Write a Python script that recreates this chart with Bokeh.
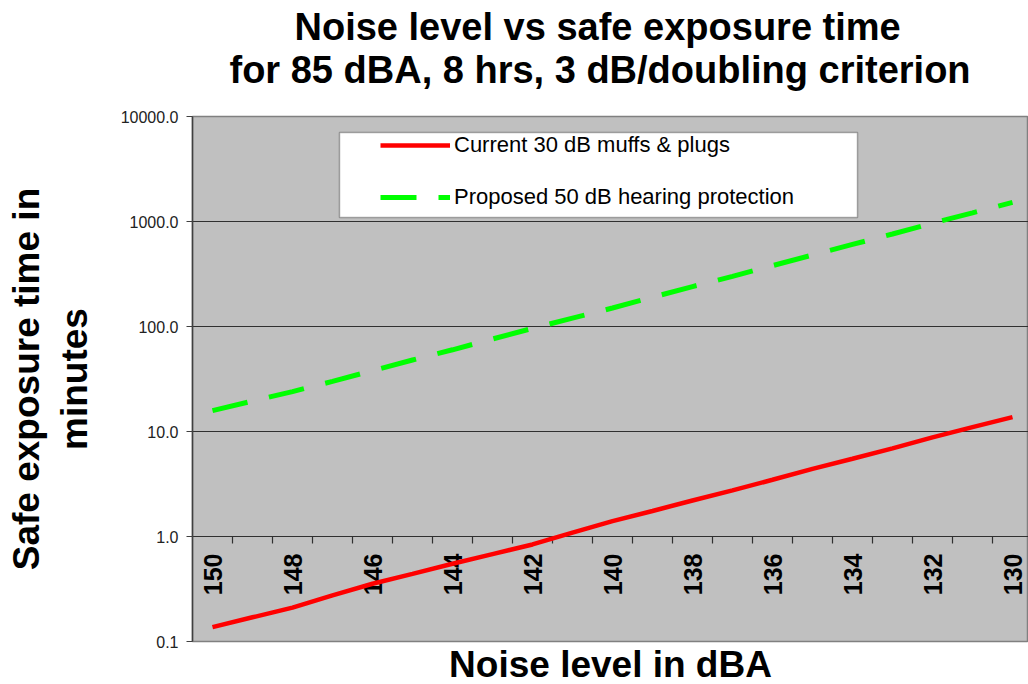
import math
from bokeh.plotting import figure
from bokeh.models import (Range1d, FixedTicker, PrintfTickFormatter, Title,
                          Legend, LegendItem, BoxAnnotation)
from bokeh.core.properties import value
from bokeh.embed import file_html
from bokeh.resources import INLINE

# ---------------- data ----------------
noise_levels = [150, 149, 148, 147, 146, 145, 144, 143, 142, 141, 140,
                139, 138, 137, 136, 135, 134, 133, 132, 131, 130]
current_30db = [0.137, 0.17, 0.21, 0.275, 0.355, 0.44, 0.55, 0.68, 0.84, 1.09, 1.40,
                1.75, 2.2, 2.75, 3.47, 4.4, 5.5, 6.9, 8.8, 11.0, 13.7]
proposed_50db = [15.8, 19.5, 24.0, 30.0, 38.0, 48.0, 60.0, 76.0, 96.0, 120.0, 150.0,
                 190.0, 240.0, 300.0, 380.0, 480.0, 605.0, 760.0, 964.0, 1210.0, 1520.0]
x_tick_labels = ["150", "148", "146", "144", "142", "140", "138", "136", "134", "132", "130"]
y_ticks = [0.1, 1, 10, 100, 1000, 10000]
grid_ticks = [1, 10, 100, 1000]
series_names = ["Current 30 dB muffs & plugs", "Proposed 50 dB hearing protection"]
title_lines = ["Noise level vs safe exposure time",
               "for 85 dBA, 8 hrs, 3 dB/doubling criterion"]
x_title = "Noise level in dBA"
y_title_lines = ["Safe exposure time in", "minutes"]

# ---------------- layout ----------------
W, H = 1028, 684
FL, FT, FB = 192, 116, 43
frame_w = W - FL
frame_h = H - FT - FB
cat_px = 40
x_idx = list(range(len(noise_levels)))
x_start = -0.5
x_end = x_start + frame_w / cat_px
y_lo, y_hi = 0.1, 10000
decades = math.log10(y_hi / y_lo)

FONT = "Liberation Sans"

p = figure(width=W, height=H,
           x_range=Range1d(x_start, x_end), y_range=Range1d(y_lo, y_hi),
           y_axis_type="log", x_axis_location=None, title=None,
           toolbar_location=None, output_backend="svg",
           min_border_left=FL, min_border_right=0,
           min_border_top=FT, min_border_bottom=FB,
           background_fill_color="#C0C0C0", border_fill_color="white",
           outline_line_color="#808080", outline_line_width=1.5)

# two-line title: nearest line first, outer line second
for txt, so, off in [(title_lines[1], 52, 37), (title_lines[0], -55, 102)]:
    p.add_layout(Title(text=txt, align="left", offset=off, standoff=so,
                       text_font=FONT, text_font_style="bold", text_font_size="38px",
                       text_line_height=1.0, text_color="black"), "above")

# y axis
ya = p.yaxis[0]
ya.ticker = FixedTicker(ticks=y_ticks)
ya.formatter = PrintfTickFormatter(format="%.1f")
ya.minor_tick_line_color = None
ya.major_tick_in = 0
ya.major_tick_out = 6
ya.major_label_standoff = 8
ya.axis_line_color = "#404040"
ya.axis_line_width = 1.5
ya.major_tick_line_color = "#404040"
ya.major_label_text_font = FONT
ya.major_label_text_font_size = "16px"
ya.major_label_text_color = "#222222"
ya.axis_label = "\n".join(y_title_lines)
ya.axis_label_standoff = 23
ya.axis_label_text_font = FONT
ya.axis_label_text_font_style = "bold"
ya.axis_label_text_font_size = "37px"
ya.axis_label_text_line_height = 1.17
ya.axis_label_text_color = "black"

# x axis title below the plot area
xt = Title(text=x_title, align="center", standoff=0,
           text_font=FONT, text_font_style="bold", text_font_size="37px",
           text_line_height=1.0, text_color="black")
p.add_layout(xt, "below")

# grids
p.xgrid.visible = False
p.ygrid.ticker = FixedTicker(ticks=grid_ticks)
p.ygrid.grid_line_color = "#303030"
p.ygrid.grid_line_width = 1.2

# category axis crossing at 1.0: tick marks between categories
bounds = [i + 0.5 for i in x_idx]
tick_len_px = 7
y_tick_end = 1 * 10 ** (-tick_len_px * decades / frame_h)
p.segment(x0=bounds, y0=[1] * len(bounds), x1=bounds, y1=[y_tick_end] * len(bounds),
          line_color="#303030", line_width=1.2)

# category labels (every other)
lab_x = [noise_levels.index(int(t)) for t in x_tick_labels]
p.text(x=lab_x, y=[1] * len(lab_x), text=x_tick_labels, angle=math.pi / 2,
       text_align="right", text_baseline="middle", y_offset=17,
       text_font=value(FONT), text_font_style="bold", text_font_size="25px",
       text_color="black")

# series
r1 = p.line(x_idx, current_30db, line_color="#FF0000", line_width=4.5)
r2 = p.line(x_idx, proposed_50db, line_color="#00FF00", line_width=5,
            line_dash="36 22")

# legend box + legend
box = BoxAnnotation(left=147, right=665, bottom=424, top=509,
                    left_units="screen", right_units="screen",
                    bottom_units="screen", top_units="screen",
                    fill_color="white", fill_alpha=1.0,
                    line_color="black", line_width=1.5)
p.add_layout(box)

legend = Legend(items=[LegendItem(label=series_names[0], renderers=[r1]),
                       LegendItem(label=series_names[1], renderers=[r2])],
                location=(188, 431), orientation="vertical",
                padding=0, margin=0, spacing=26,
                glyph_width=70, glyph_height=24, label_height=24,
                label_standoff=4,
                background_fill_alpha=0, border_line_alpha=0,
                label_text_font=FONT, label_text_font_size="22px",
                label_text_color="black")
p.add_layout(legend, "center")

open("out.html", "w").write(file_html(p, INLINE))
